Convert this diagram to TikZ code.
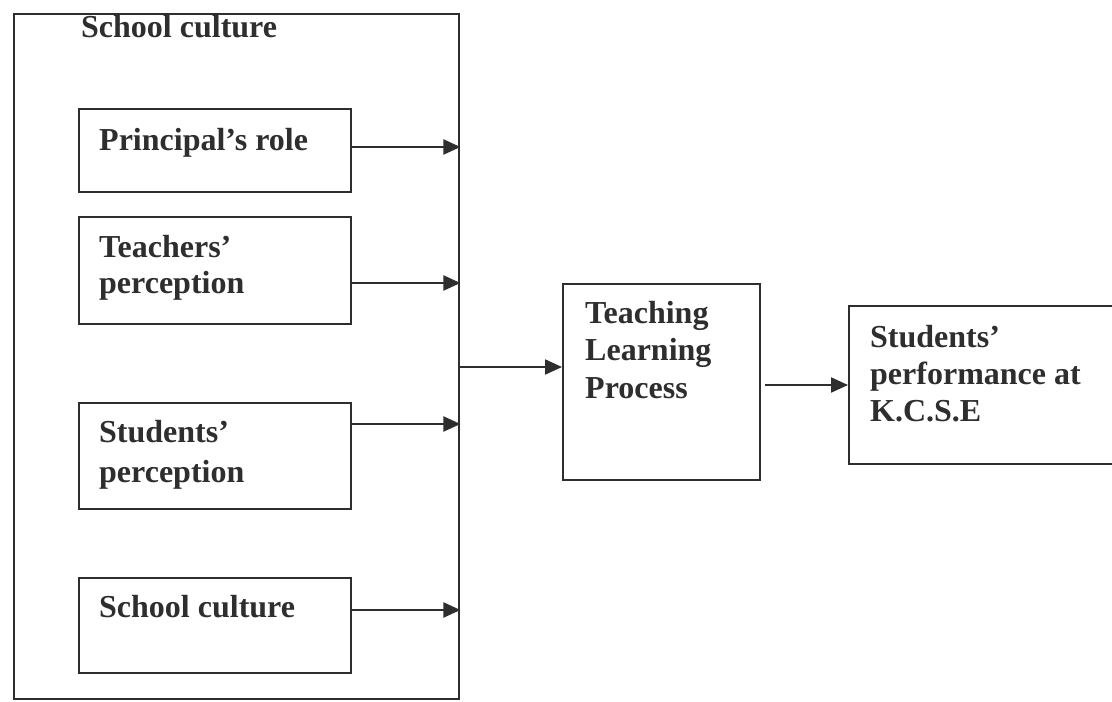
\documentclass[tikz,border=0pt]{standalone}
\usepackage{fontspec}
\setmainfont{Liberation Serif}
\usetikzlibrary{arrows.meta}
\definecolor{ink}{HTML}{2E2E2E}
\begin{document}
\begin{tikzpicture}[x=1pt,y=-1pt,
  box/.style={draw=ink,line width=2.4pt,inner sep=0pt,anchor=north west},
  lbl/.style={anchor=base west,inner sep=0pt,text=ink,font=\fontsize{32}{36}\selectfont\bfseries},
  arr/.style={draw=ink,line width=2.2pt,-{Triangle[length=17pt,width=15pt]}}]
\path[use as bounding box,fill=white] (0,0) rectangle (1112,702);
\begin{scope}
\clip (0,0) rectangle (1112,702);
% outer
\node[box,minimum width=445pt,minimum height=685pt] (outer) at (13,13) {};
\node[lbl] (outerlbl) at (81,37) {School culture};
% inner boxes
\node[box,minimum width=272pt,minimum height=83pt] (prin) at (78,108) {};
\node[lbl] (prinl) at (99,150) {Principal’s role};
\node[box,minimum width=272pt,minimum height=107pt] (teach) at (78,216) {};
\node[lbl] (teachl1) at (99,257) {Teachers’};
\node[lbl] (teachl2) at (99,293) {perception};
\node[box,minimum width=272pt,minimum height=106pt] (stud) at (78,402) {};
\node[lbl] (studl1) at (99,442) {Students’};
\node[lbl] (studl2) at (99,482) {perception};
\node[box,minimum width=272pt,minimum height=95pt] (cult) at (78,577) {};
\node[lbl] (cultl) at (99,617) {School culture};
% middle
\node[box,minimum width=197pt,minimum height=196pt] (tlp) at (562,283) {};
\node[lbl] (tlp1) at (585,323) {Teaching};
\node[lbl] (tlp2) at (585,360) {Learning};
\node[lbl] (tlp3) at (585,398) {Process};
% right
\node[box,minimum width=280pt,minimum height=158pt] (perf) at (848,305) {};
\node[lbl] (perf1) at (870,347) {Students’};
\node[lbl] (perf2) at (870,384) {performance at};
\node[lbl] (perf3) at (870,421) {K.C.S.E};
% arrows
\draw[arr] (prin.east |- 0,147) -- (outer.east |- 0,147);
\draw[arr] (teach.east |- 0,283) -- (outer.east |- 0,283);
\draw[arr] (stud.east |- 0,424) -- (outer.east |- 0,424);
\draw[arr] (cult.east |- 0,610) -- (outer.east |- 0,610);
\draw[arr] (outer.east |- 0,367) -- (tlp.west |- 0,367);
\coordinate (tlpout) at (765,385);
\draw[arr] (tlpout) -- (perf.west |- 0,385);
\end{scope}
\end{tikzpicture}
\end{document}
